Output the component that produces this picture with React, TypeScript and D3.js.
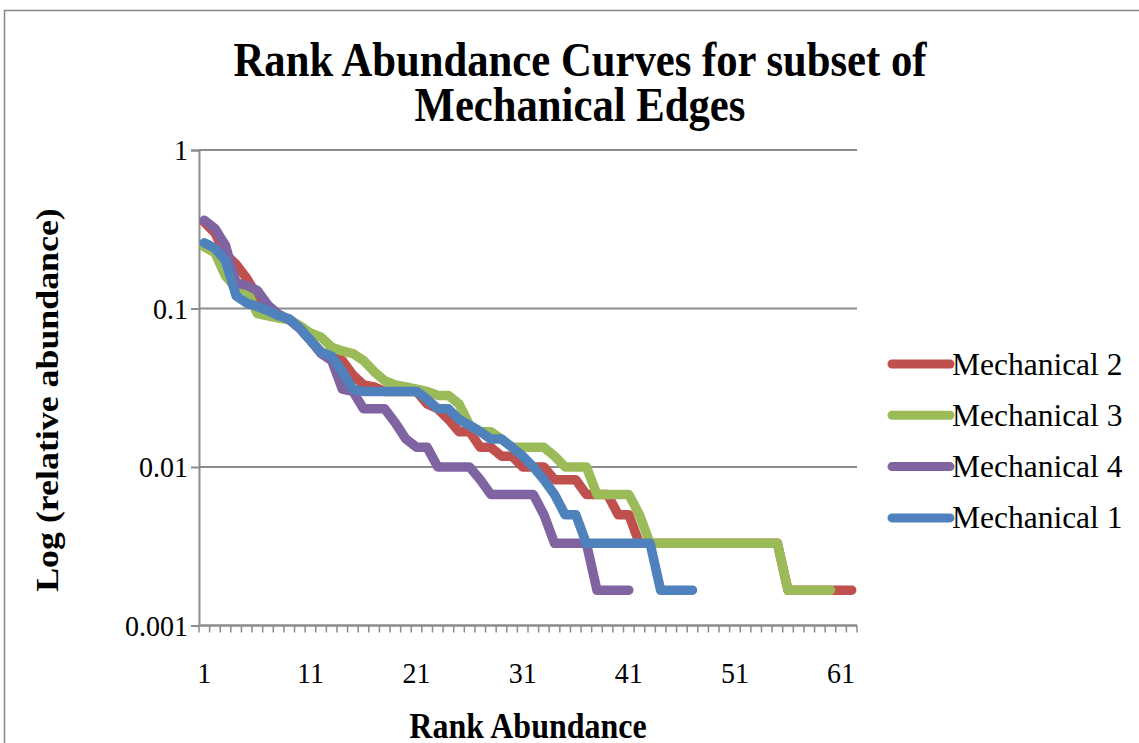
import { useRef, useEffect } from "react";
import * as d3 from "d3";

// ranks 1..62 on the category axis
const ranks = d3.range(1, 63).map(String);
const xTickLabels = ["1", "11", "21", "31", "41", "51", "61"];
const yTickValues = [1, 0.1, 0.01, 0.001];
const yTickLabels = ["1", "0.1", "0.01", "0.001"];

const mech2 = [
  0.35, 0.3, 0.22, 0.19, 0.155, 0.12, 0.1, 0.09, 0.085, 0.075,
  0.063, 0.053, 0.05, 0.047, 0.038, 0.033, 0.032, 0.03, 0.03, 0.03,
  0.03, 0.025, 0.0233, 0.02, 0.0167, 0.0167, 0.0133, 0.0133, 0.0117, 0.0117,
  0.01, 0.01, 0.01, 0.0083, 0.0083, 0.0083, 0.0067, 0.0067, 0.0067, 0.005,
  0.005, 0.0033, 0.0033, 0.0033, 0.0033, 0.0033, 0.0033, 0.0033, 0.0033, 0.0033,
  0.0033, 0.0033, 0.0033, 0.0033, 0.0033, 0.00167, 0.00167, 0.00167, 0.00167, 0.00167,
  0.00167, 0.00167,
];
const mech3 = [
  0.245, 0.225, 0.16, 0.135, 0.13, 0.093, 0.09, 0.087, 0.085, 0.078,
  0.07, 0.066, 0.057, 0.054, 0.052, 0.047, 0.04, 0.035, 0.033, 0.032,
  0.031, 0.03, 0.0283, 0.0283, 0.025, 0.0183, 0.0167, 0.0167, 0.015, 0.0133,
  0.0133, 0.0133, 0.0133, 0.0117, 0.01, 0.01, 0.01, 0.0067, 0.0067, 0.0067,
  0.0067, 0.005, 0.0033, 0.0033, 0.0033, 0.0033, 0.0033, 0.0033, 0.0033, 0.0033,
  0.0033, 0.0033, 0.0033, 0.0033, 0.0033, 0.00167, 0.00167, 0.00167, 0.00167, 0.00167,
];
const mech4 = [
  0.36, 0.32, 0.25, 0.145, 0.14, 0.13, 0.105, 0.092, 0.085, 0.075,
  0.063, 0.052, 0.047, 0.031, 0.03, 0.0233, 0.0233, 0.0233, 0.019, 0.015,
  0.0133, 0.0133, 0.01, 0.01, 0.01, 0.01, 0.0083, 0.0067, 0.0067, 0.0067,
  0.0067, 0.0067, 0.005, 0.0033, 0.0033, 0.0033, 0.0033, 0.00167, 0.00167, 0.00167,
  0.00167,
];
const mech1 = [
  0.26, 0.24, 0.2, 0.12, 0.108, 0.103, 0.097, 0.09, 0.086, 0.075,
  0.063, 0.053, 0.05, 0.04, 0.031, 0.03, 0.03, 0.03, 0.03, 0.03,
  0.03, 0.0267, 0.0233, 0.0233, 0.02, 0.0183, 0.0167, 0.015, 0.015, 0.0133,
  0.0117, 0.01, 0.0083, 0.0067, 0.005, 0.005, 0.0033, 0.0033, 0.0033, 0.0033,
  0.0033, 0.0033, 0.0033, 0.00167, 0.00167, 0.00167, 0.00167,
];

const seriesNames = ["Mechanical 2", "Mechanical 3", "Mechanical 4", "Mechanical 1"];
const seriesValues = [mech2, mech3, mech4, mech1];
const colors = ["#C0504D", "#9BBB59", "#8064A2", "#4F81BD"];

const dims = {
  width: 1139,
  height: 743,
  left: 199,
  right: 857,
  top: 150,
  bottom: 625.5,
};

const FONT = "'Liberation Serif', 'Times New Roman', serif";

const App = () => {
  const ref = useRef<SVGSVGElement>(null);

  useEffect(() => {
    const svg = d3.select(ref.current);
    svg.selectAll("*").remove();

    const x = d3.scaleBand().domain(ranks).range([dims.left, dims.right]);
    const y = d3.scaleLog().domain([0.001, 1]).range([dims.bottom, dims.top]);
    const cx = (i: number) => (x(ranks[i]) as number) + x.bandwidth() / 2;

    // the source picture is a bit taller than wide, so text gets a small vertical stretch
    const label = (
      g: d3.Selection<any, any, any, any>,
      tx: number, ty: number, txt: string,
      size: number, k: number, anchor = "middle", bold = false, rot = false
    ) =>
      g.append("text")
        .attr("transform", rot
          ? `translate(${tx},${ty}) rotate(-90) scale(${k},1)`
          : `translate(${tx},${ty}) scale(1,${k})`)
        .attr("text-anchor", anchor)
        .attr("font-family", FONT)
        .attr("font-size", size)
        .attr("font-weight", bold ? "bold" : "normal")
        .attr("fill", "#000")
        .text(txt);

    // chart area border
    svg.append("rect")
      .attr("x", 4.5).attr("y", 10.5)
      .attr("width", 1200).attr("height", 800)
      .attr("fill", "white")
      .attr("stroke", "#868686").attr("stroke-width", 1.5);

    // gridlines
    svg.append("g")
      .selectAll("line")
      .data(yTickValues)
      .join("line")
      .attr("x1", dims.left).attr("x2", dims.right)
      .attr("y1", d => y(d)).attr("y2", d => y(d))
      .attr("stroke", "#8c8c8c").attr("stroke-width", 2);

    // y axis
    const yAxis = d3.axisLeft(y)
      .tickValues(yTickValues)
      .tickFormat(() => "")
      .tickSize(8);
    const yg = svg.append("g")
      .attr("transform", `translate(${dims.left},0)`)
      .call(yAxis);
    yg.select(".domain").attr("stroke", "#8c8c8c").attr("stroke-width", 2);
    yg.selectAll(".tick line").attr("stroke", "#8c8c8c").attr("stroke-width", 2);
    const ylab = svg.append("g");
    yTickValues.forEach((v, i) => label(ylab, 188, y(v) + 10, yTickLabels[i], 28, 1.06, "end"));

    // x axis: ticks at category boundaries
    const xg = svg.append("g");
    xg.append("line")
      .attr("x1", dims.left).attr("x2", dims.right)
      .attr("y1", dims.bottom).attr("y2", dims.bottom)
      .attr("stroke", "#8c8c8c").attr("stroke-width", 2);
    const bounds = ranks.map(r => x(r) as number).concat([dims.right]);
    xg.selectAll("line.tk")
      .data(bounds)
      .join("line")
      .attr("class", "tk")
      .attr("x1", d => d).attr("x2", d => d)
      .attr("y1", dims.bottom).attr("y2", dims.bottom + 7)
      .attr("stroke", "#8c8c8c").attr("stroke-width", 1.5);
    xTickLabels.forEach(d =>
      label(xg, (x(d) as number) + x.bandwidth() / 2, 683, d, 28, 1.06));

    // series lines
    const line = d3.line<number>()
      .x((_, i) => cx(i))
      .y(d => y(d));
    svg.append("g")
      .selectAll("path")
      .data(seriesValues)
      .join("path")
      .attr("d", d => line(d))
      .attr("fill", "none")
      .attr("stroke", (_, i) => colors[i])
      .attr("stroke-width", 9.5)
      .attr("stroke-linejoin", "round")
      .attr("stroke-linecap", "round");

    // legend
    const lg = svg.append("g");
    seriesNames.forEach((name, i) => {
      const ly = 364 + i * 51.3;
      lg.append("line")
        .attr("x1", 892).attr("x2", 950)
        .attr("y1", ly).attr("y2", ly)
        .attr("stroke", colors[i])
        .attr("stroke-width", 9)
        .attr("stroke-linecap", "round");
      label(lg, 952, ly + 10.5, name, 31.5, 1.02, "start");
    });

    // titles
    const tg = svg.append("g");
    label(tg, 580, 76, "Rank Abundance Curves for subset of", 42.7, 1.15, "middle", true);
    label(tg, 580, 121, "Mechanical Edges", 42.7, 1.15, "middle", true);
    label(tg, 528, 738, "Rank Abundance", 32, 1.12, "middle", true);
    label(tg, 58, 400, "Log (relative abundance)", 32, 1.12, "middle", true, true);
  }, []);

  return (
    <svg
      ref={ref}
      width={dims.width}
      height={dims.height}
      style={{ position: "absolute", left: 0, top: 0, background: "white" }}
    />
  );
};

export default App;
